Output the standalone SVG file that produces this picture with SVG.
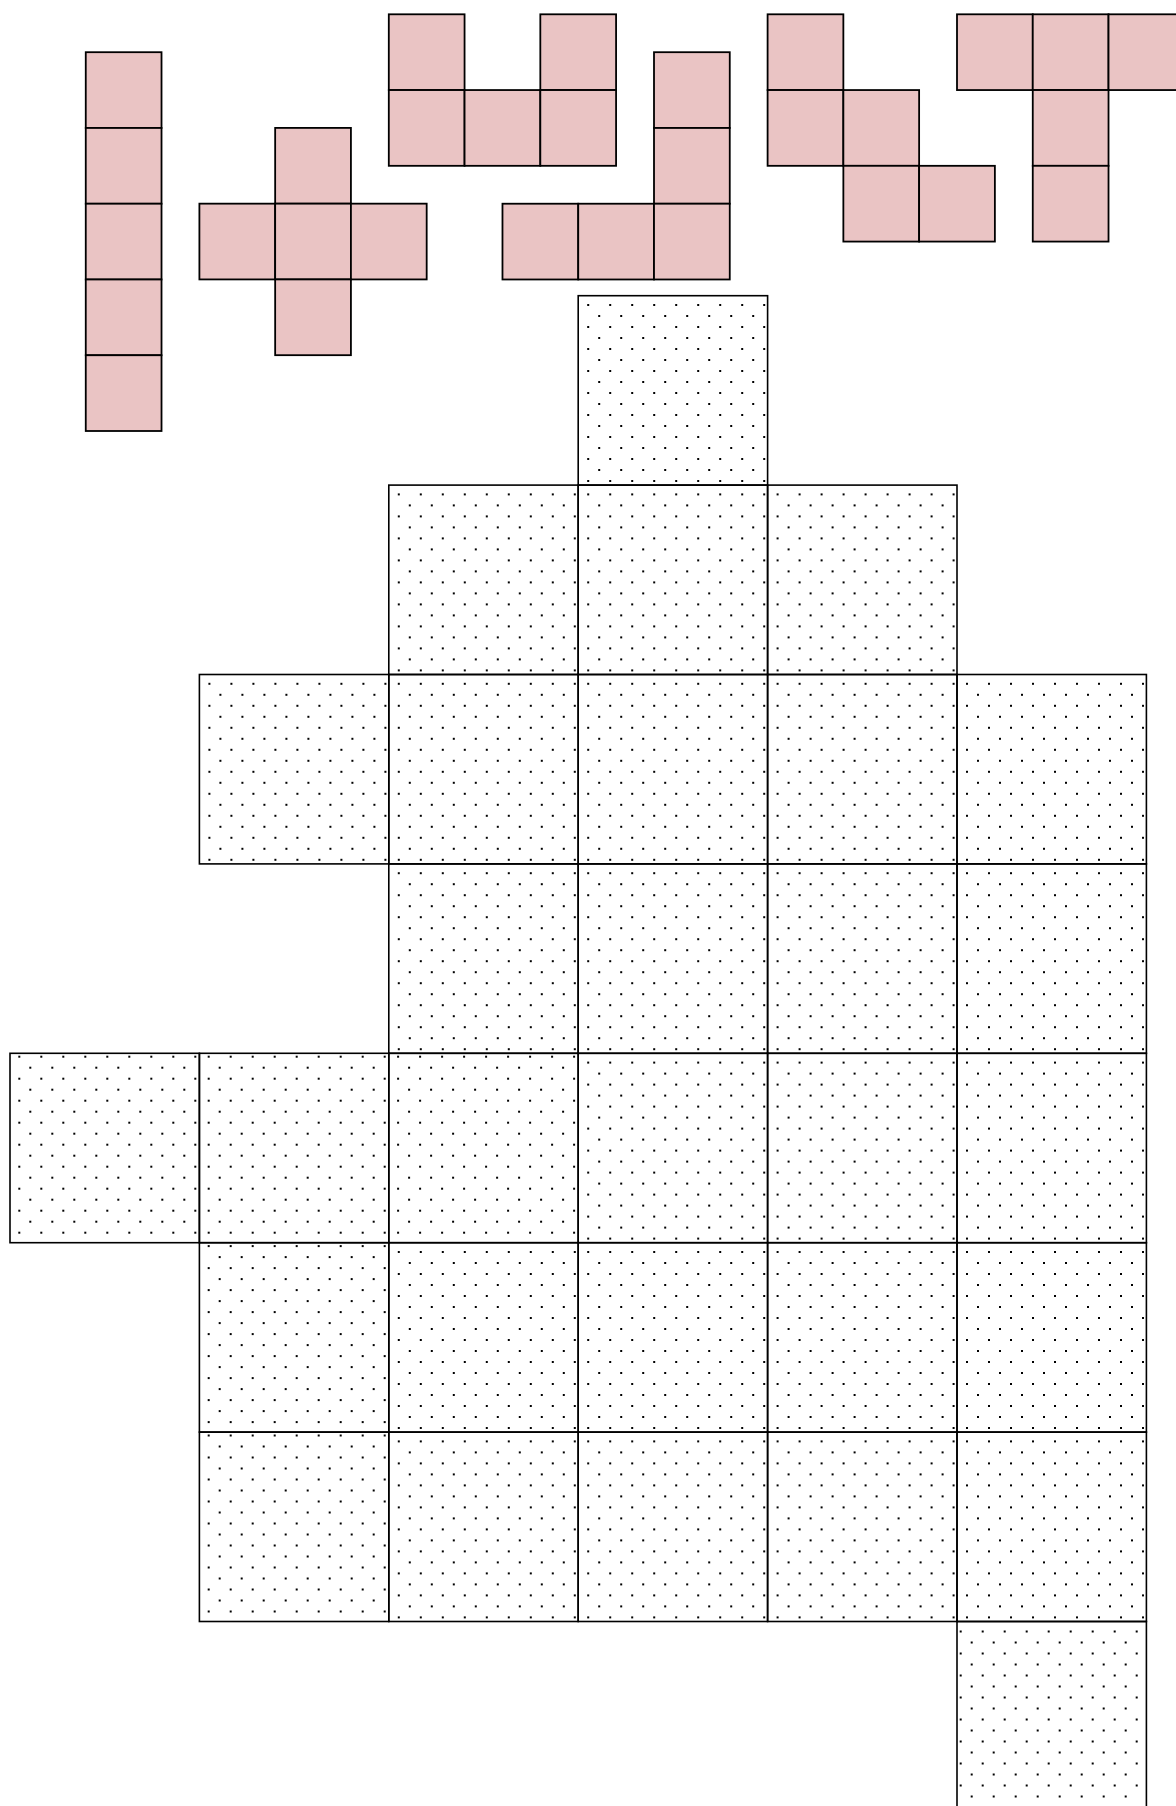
<svg xmlns="http://www.w3.org/2000/svg" width="1176" height="1806" viewBox="0 0 1176 1806">
<style>
.p{fill:#eac4c4;stroke:#000;stroke-width:1.8}
.b{stroke:#000;stroke-width:1.6}
</style>
<defs>
<pattern id="dA" patternUnits="userSpaceOnUse" x="9" y="8.3" width="22" height="22"><rect width="2" height="2"/><rect x="11" y="11" width="2" height="2"/></pattern>
<pattern id="dT" patternUnits="userSpaceOnUse" x="8.3" y="2.4" width="22" height="22"><rect width="2" height="2"/><rect x="11" y="11" width="2" height="2"/></pattern>
<pattern id="dZ" patternUnits="userSpaceOnUse" x="2.7" y="9" width="22" height="22"><rect width="2" height="2"/><rect x="11" y="11" width="2" height="2"/></pattern>
</defs>
<rect width="1176" height="1806" fill="#fff"/>
<g id="piece-I">
<rect class="p" x="85.76" y="52.2" width="75.76" height="75.76"/>
<rect class="p" x="85.76" y="127.96" width="75.76" height="75.76"/>
<rect class="p" x="85.76" y="203.72" width="75.76" height="75.76"/>
<rect class="p" x="85.76" y="279.48" width="75.76" height="75.76"/>
<rect class="p" x="85.76" y="355.24" width="75.76" height="75.76"/>
</g>
<g id="piece-X">
<rect class="p" x="275.16" y="127.9" width="75.76" height="75.76"/>
<rect class="p" x="199.4" y="203.66" width="75.76" height="75.76"/>
<rect class="p" x="275.16" y="203.66" width="75.76" height="75.76"/>
<rect class="p" x="350.92" y="203.66" width="75.76" height="75.76"/>
<rect class="p" x="275.16" y="279.42" width="75.76" height="75.76"/>
</g>
<g id="piece-U">
<rect class="p" x="388.8" y="14.3" width="75.76" height="75.76"/>
<rect class="p" x="540.32" y="14.3" width="75.76" height="75.76"/>
<rect class="p" x="388.8" y="90.06" width="75.76" height="75.76"/>
<rect class="p" x="464.56" y="90.06" width="75.76" height="75.76"/>
<rect class="p" x="540.32" y="90.06" width="75.76" height="75.76"/>
</g>
<g id="piece-L">
<rect class="p" x="654.0" y="52.2" width="75.76" height="75.76"/>
<rect class="p" x="654.0" y="127.96" width="75.76" height="75.76"/>
<rect class="p" x="502.48" y="203.72" width="75.76" height="75.76"/>
<rect class="p" x="578.24" y="203.72" width="75.76" height="75.76"/>
<rect class="p" x="654.0" y="203.72" width="75.76" height="75.76"/>
</g>
<g id="piece-W">
<rect class="p" x="767.6" y="14.3" width="75.76" height="75.76"/>
<rect class="p" x="767.6" y="90.06" width="75.76" height="75.76"/>
<rect class="p" x="843.36" y="90.06" width="75.76" height="75.76"/>
<rect class="p" x="843.36" y="165.82" width="75.76" height="75.76"/>
<rect class="p" x="919.12" y="165.82" width="75.76" height="75.76"/>
</g>
<g id="piece-T">
<rect class="p" x="957.0" y="14.3" width="75.76" height="75.76"/>
<rect class="p" x="1032.76" y="14.3" width="75.76" height="75.76"/>
<rect class="p" x="1108.52" y="14.3" width="75.76" height="75.76"/>
<rect class="p" x="1032.76" y="90.06" width="75.76" height="75.76"/>
<rect class="p" x="1032.76" y="165.82" width="75.76" height="75.76"/>
</g>
<g id="board">
<g id="r0c3" transform="translate(578.2,295.7)"><rect class="b" width="189.4" height="189.4" fill="url(#dA)"/></g>
<g id="r1c2" transform="translate(388.8,485.1)"><rect class="b" width="189.4" height="189.4" fill="url(#dA)"/></g>
<g id="r1c3" transform="translate(578.2,485.1)"><rect class="b" width="189.4" height="189.4" fill="url(#dA)"/></g>
<g id="r1c4" transform="translate(767.6,485.1)"><rect class="b" width="189.4" height="189.4" fill="url(#dA)"/></g>
<g id="r2c1" transform="translate(199.4,674.5)"><rect class="b" width="189.4" height="189.4" fill="url(#dA)"/></g>
<g id="r2c2" transform="translate(388.8,674.5)"><rect class="b" width="189.4" height="189.4" fill="url(#dA)"/></g>
<g id="r2c3" transform="translate(578.2,674.5)"><rect class="b" width="189.4" height="189.4" fill="url(#dA)"/></g>
<g id="r2c4" transform="translate(767.6,674.5)"><rect class="b" width="189.4" height="189.4" fill="url(#dA)"/></g>
<g id="r2c5" transform="translate(957,674.5)"><rect class="b" width="189.4" height="189.4" fill="url(#dA)"/></g>
<g id="r3c2" transform="translate(388.8,863.9)"><rect class="b" width="189.4" height="189.4" fill="url(#dA)"/></g>
<g id="r3c3" transform="translate(578.2,863.9)"><rect class="b" width="189.4" height="189.4" fill="url(#dA)"/></g>
<g id="r3c4" transform="translate(767.6,863.9)"><rect class="b" width="189.4" height="189.4" fill="url(#dA)"/></g>
<g id="r3c5" transform="translate(957,863.9)"><rect class="b" width="189.4" height="189.4" fill="url(#dA)"/></g>
<g id="r4c0" transform="translate(10,1053.3)"><rect class="b" width="189.4" height="189.4" fill="url(#dT)"/></g>
<g id="r4c1" transform="translate(199.4,1053.3)"><rect class="b" width="189.4" height="189.4" fill="url(#dT)"/></g>
<g id="r4c2" transform="translate(388.8,1053.3)"><rect class="b" width="189.4" height="189.4" fill="url(#dT)"/></g>
<g id="r4c3" transform="translate(578.2,1053.3)"><rect class="b" width="189.4" height="189.4" fill="url(#dA)"/></g>
<g id="r4c4" transform="translate(767.6,1053.3)"><rect class="b" width="189.4" height="189.4" fill="url(#dA)"/></g>
<g id="r4c5" transform="translate(957,1053.3)"><rect class="b" width="189.4" height="189.4" fill="url(#dA)"/></g>
<g id="r5c1" transform="translate(199.4,1242.7)"><rect class="b" width="189.4" height="189.4" fill="url(#dT)"/></g>
<g id="r5c2" transform="translate(388.8,1242.7)"><rect class="b" width="189.4" height="189.4" fill="url(#dA)"/></g>
<g id="r5c3" transform="translate(578.2,1242.7)"><rect class="b" width="189.4" height="189.4" fill="url(#dA)"/></g>
<g id="r5c4" transform="translate(767.6,1242.7)"><rect class="b" width="189.4" height="189.4" fill="url(#dA)"/></g>
<g id="r5c5" transform="translate(957,1242.7)"><rect class="b" width="189.4" height="189.4" fill="url(#dA)"/></g>
<g id="r6c1" transform="translate(199.4,1432.1)"><rect class="b" width="189.4" height="189.4" fill="url(#dT)"/></g>
<g id="r6c2" transform="translate(388.8,1432.1)"><rect class="b" width="189.4" height="189.4" fill="url(#dA)"/></g>
<g id="r6c3" transform="translate(578.2,1432.1)"><rect class="b" width="189.4" height="189.4" fill="url(#dA)"/></g>
<g id="r6c4" transform="translate(767.6,1432.1)"><rect class="b" width="189.4" height="189.4" fill="url(#dA)"/></g>
<g id="r6c5" transform="translate(957,1432.1)"><rect class="b" width="189.4" height="189.4" fill="url(#dA)"/></g>
<g id="r7c5" transform="translate(957,1621.5)"><rect class="b" width="189.4" height="189.4" fill="url(#dZ)"/></g>
</g>
</svg>
